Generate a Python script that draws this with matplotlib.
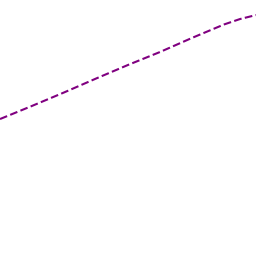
import matplotlib
matplotlib.use("Agg")
import matplotlib.pyplot as plt

# values
x = [0, 2, 4, 6, 8, 10, 12, 14, 15, 16]
y = [8.56, 9.38, 10.22, 11.09, 11.94, 12.75, 13.63, 14.47, 14.81, 15.06]

fig = plt.figure(figsize=(2.56, 2.56), dpi=100)
ax = fig.add_axes([0, 0, 1, 1])
ax.plot(x, y, color="purple", linestyle="--", linewidth=1.5)
ax.set_xlim(0, 16)
ax.set_ylim(0, 16)
ax.axis("off")
fig.savefig("out.png", dpi=100)
